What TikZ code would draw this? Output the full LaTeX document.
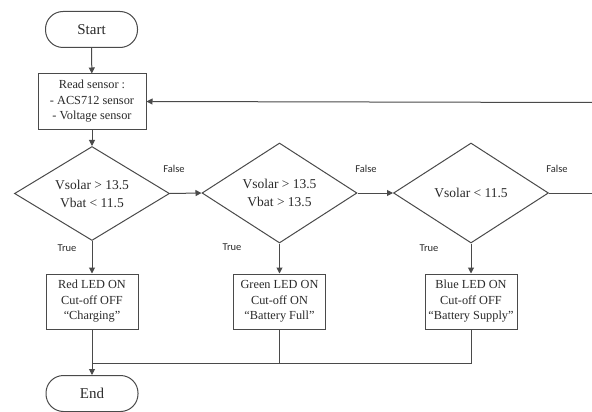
\documentclass[tikz,border=0pt]{standalone}
\usepackage{fontspec}
\setmainfont{Liberation Serif}
\newfontfamily\labfont{Carlito}
\usetikzlibrary{shapes.geometric,arrows.meta}
\definecolor{ln}{HTML}{4A4A4A}
\definecolor{tx}{HTML}{2A2A2A}
\tikzset{
  base/.style={draw=ln, line width=1pt, fill=white, text=tx, align=center, inner sep=0pt},
  term/.style={base, rounded corners=17.5pt, minimum width=92pt, minimum height=36pt, font=\fontsize{15}{18}\selectfont},
  procbox/.style={base, rectangle, minimum width=92pt, minimum height=55pt, font=\fontsize{12.3}{15.5}\selectfont},
  decide/.style={base, diamond, shape aspect=1.6, minimum width=155pt, font=\fontsize{13.5}{18}\selectfont},
  lab/.style={font=\labfont\fontsize{10.5}{12}\selectfont, text=tx},
  arr/.style={draw=ln, line width=1pt, -{Triangle[length=6pt,width=6pt]}},
  ln/.style={draw=ln, line width=1pt}
}
\begin{document}
\begin{tikzpicture}[x=1pt,y=-1pt]
\useasboundingbox (0,0) rectangle (592,412);
\node[term] (start) at (91.5,29.5) {Start};
\node[procbox, minimum width=108pt] (read) at (92,101.5) {Read sensor :\\- ACS712 sensor\\- Voltage sensor};
\node[decide, minimum height=94pt] (d1) at (92,193.5) {Vsolar > 13.5\\Vbat < 11.5};
\node[decide, minimum height=100pt] (d2) at (279.5,193) {Vsolar > 13.5\\Vbat > 13.5};
\node[decide, minimum height=100pt] (d3) at (471,193) {Vsolar < 11.5};
\node[procbox] (b1) at (92,301.5) {Red LED ON\\Cut-off OFF\\``Charging''};
\node[procbox] (b2) at (279.5,301.5) {Green LED ON\\Cut-off ON\\``Battery Full''};
\node[procbox] (b3) at (471,301.5) {Blue LED ON\\Cut-off OFF\\``Battery Supply''};
\node[term] (end) at (92,393.5) {End};
\coordinate (fb) at (592,102.5);
\coordinate (out) at (592,193);
\coordinate (m) at (92,363);
\node[lab] (f1) at (174,169) {False};
\node[lab] (f2) at (366,169) {False};
\node[lab] (f3) at (557,169) {False};
\node[lab] (t1) at (67,248) {True};
\node[lab] (t2) at (232,247) {True};
\node[lab] (t3) at (429,248) {True};
\draw[arr] (start) -- (read);
\draw[arr] (fb) -- (read.east);
\draw[arr] (read) -- (d1);
\draw[arr] (d1.east) -- (d2.west);
\draw[arr] (d2.east) -- (d3.west);
\draw[ln] (d3.east) -- (out);
\draw[arr] (d1.south) -- (b1.north);
\draw[arr] (d2.south) -- (b2.north);
\draw[arr] (d3.south) -- (b3.north);
\draw[arr] (b1.south) -- (end.north);
\draw[ln] (b2.south) -- (b2.south |- m);
\draw[ln] (b3.south) -- (b3.south |- m) -- (m);
\end{tikzpicture}
\end{document}
